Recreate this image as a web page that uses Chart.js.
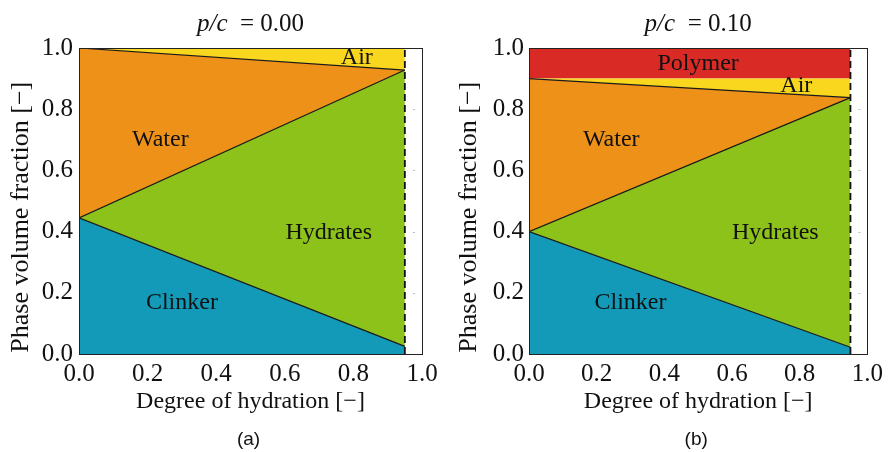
<!DOCTYPE html>
<html>
<head>
<meta charset="utf-8">
<script src="https://cdn.jsdelivr.net/npm/chart.js@4.4.1/dist/chart.umd.min.js"></script>
<style>
  body { margin: 0; background: #fff; }
  .wrap { display: flex; width: 888px; height: 452px; }
  canvas { display: block; }
</style>
</head>
<body>
<div class="wrap">
  <canvas id="chart-a" width="444" height="452"></canvas>
  <canvas id="chart-b" width="444" height="452"></canvas>
</div>
<script>
// Degree of hydration at start and end of the reaction
const alpha = [0, 0.95];
const alphaMax = 0.95;

// Phase volume fractions, p/c = 0.00 (stacked from the bottom)
const clinkerA = [0.445, 0.025];
const hydratesA = [0, 0.903];
const waterA = [0.555, 0];
const airA = [0, 0.072];

// Phase volume fractions, p/c = 0.10
const clinkerB = [0.40, 0.022];
const hydratesB = [0, 0.816];
const waterB = [0.50, 0];
const airB = [0, 0.062];
const polymerB = [0.10, 0.10];

const colors = {
  Clinker: '#139ab8',
  Hydrates: '#8dc21b',
  Water: '#ee9119',
  Air: '#f9d71e',
  Polymer: '#d92a26'
};

const serif = '"Liberation Serif", "DejaVu Serif", serif';

// Label text positions in data units
const labelsA = [
  { text: 'Water', x: 0.237, y: 0.70 },
  { text: 'Hydrates', x: 0.728, y: 0.395 },
  { text: 'Clinker', x: 0.30, y: 0.167 },
  { text: 'Air', x: 0.81, y: 0.967 }
];
const labelsB = [
  { text: 'Polymer', x: 0.50, y: 0.95 },
  { text: 'Air', x: 0.79, y: 0.876 },
  { text: 'Water', x: 0.243, y: 0.70 },
  { text: 'Hydrates', x: 0.728, y: 0.395 },
  { text: 'Clinker', x: 0.30, y: 0.167 }
];

// Frame, inner ticks, area labels, title and panel tag
const phasePlugin = {
  id: 'phaseLabels',
  afterDatasetsDraw(chart, args, opts) {
    const { ctx, chartArea: a, scales } = chart;
    ctx.save();
    // faint inner ticks on the right side
    ctx.strokeStyle = '#bbb';
    ctx.lineWidth = 1;
    [0.2, 0.4, 0.6, 0.8].forEach(v => {
      const y = Math.round(scales.y.getPixelForValue(v)) + 0.5;
      ctx.beginPath();
      ctx.moveTo(a.right - 9, y);
      ctx.lineTo(a.right - 7, y);
      ctx.stroke();
    });
    // frame
    ctx.strokeStyle = '#222';
    ctx.lineWidth = 1;
    ctx.strokeRect(Math.round(a.left) + 0.5, Math.round(a.top) + 0.5,
      Math.round(a.right - a.left), Math.round(a.bottom - a.top));
    // area labels
    ctx.fillStyle = '#111';
    ctx.font = '24px ' + serif;
    ctx.textAlign = 'center';
    ctx.textBaseline = 'middle';
    opts.items.forEach(l => {
      ctx.fillText(l.text, scales.x.getPixelForValue(l.x), scales.y.getPixelForValue(l.y));
    });
    ctx.restore();
  },
  afterDraw(chart, args, opts) {
    const { ctx, chartArea: a } = chart;
    ctx.save();
    ctx.fillStyle = '#111';
    ctx.textBaseline = 'middle';
    ctx.textAlign = 'left';
    const italic = 'italic 25px ' + serif;
    const plain = '25px ' + serif;
    const t1 = 'p/c';
    const t2 = '  = ' + opts.pc;
    ctx.font = italic;
    const w1 = ctx.measureText(t1).width;
    ctx.font = plain;
    const w2 = ctx.measureText(t2).width;
    let x = (a.left + a.right) / 2 - (w1 + w2) / 2;
    ctx.font = italic;
    ctx.fillText(t1, x, 24);
    ctx.font = plain;
    ctx.fillText(t2, x + w1, 24);
    // panel tag
    ctx.font = '19px "Liberation Sans", Arial, sans-serif';
    ctx.textAlign = 'center';
    ctx.fillText(opts.tag, (a.left + a.right) / 2 - 2, 440);
    ctx.restore();
  }
};

function makeChart(id, phases, items, pc, tag, layout) {
  const datasets = phases.map((p, i) => ({
    label: p.name,
    data: alpha.map((a, j) => ({ x: a, y: p.values[j] })),
    backgroundColor: colors[p.name],
    borderColor: '#1a1a1a',
    borderWidth: p.line ? 1.2 : 0,
    fill: i === 0 ? 'origin' : '-1',
    pointRadius: 0,
    tension: 0,
    yAxisID: 'y'
  }));

  // end of hydration marker
  datasets.push({
    label: 'alpha max',
    data: [{ x: alphaMax, y: 0 }, { x: alphaMax, y: 1 }],
    borderColor: '#111',
    borderWidth: 1.8,
    borderDash: [7, 4],
    fill: false,
    pointRadius: 0,
    yAxisID: 'yd'
  });

  const tickFont = { family: serif, size: 25 };

  return new Chart(document.getElementById(id), {
    type: 'line',
    data: { datasets },
    options: {
      responsive: false,
      animation: false,
      layout: { padding: { top: 48, right: layout.right, bottom: 36, left: 0 } },
      plugins: {
        legend: { display: false },
        tooltip: { enabled: false },
        filler: { drawTime: 'beforeDatasetsDraw' },
        phaseLabels: { items, pc, tag }
      },
      scales: {
        x: {
          type: 'linear',
          min: 0,
          max: 1,
          grid: { display: false, drawTicks: false },
          border: { display: false },
          ticks: {
            stepSize: 0.2,
            color: '#111',
            font: tickFont,
            padding: 5,
            maxRotation: 0,
            callback: v => v.toFixed(1)
          },
          title: {
            display: true,
            text: 'Degree of hydration [−]',
            color: '#111',
            font: { family: serif, size: 24 },
            padding: { top: 0, bottom: 0 }
          },
          afterFit(scale) { scale.height = 62; }
        },
        y: {
          stacked: true,
          min: 0,
          max: 1,
          grid: { display: false, drawTicks: false },
          border: { display: false },
          ticks: {
            stepSize: 0.2,
            color: '#111',
            font: tickFont,
            padding: layout.tickPad,
            callback: v => v.toFixed(1)
          },
          title: {
            display: true,
            text: 'Phase volume fraction [−]     ',
            color: '#111',
            font: { family: serif, size: 26 },
            padding: { top: layout.titlePad, bottom: 0 }
          },
          afterFit(scale) { scale.width = layout.yWidth; }
        },
        yd: {
          display: false,
          min: 0,
          max: 1
        }
      }
    },
    plugins: [phasePlugin]
  });
}

makeChart('chart-a', [
  { name: 'Clinker', values: clinkerA, line: true },
  { name: 'Hydrates', values: hydratesA, line: true },
  { name: 'Water', values: waterA, line: true },
  { name: 'Air', values: airA, line: false }
], labelsA, '0.00', '(a)', { right: 22, yWidth: 79, tickPad: 6, titlePad: 6 });

makeChart('chart-b', [
  { name: 'Clinker', values: clinkerB, line: true },
  { name: 'Hydrates', values: hydratesB, line: true },
  { name: 'Water', values: waterB, line: true },
  { name: 'Air', values: airB, line: false },
  { name: 'Polymer', values: polymerB, line: false }
], labelsB, '0.10', '(b)', { right: 17, yWidth: 85, tickPad: 5, titlePad: 10 });
</script>
</body>
</html>
